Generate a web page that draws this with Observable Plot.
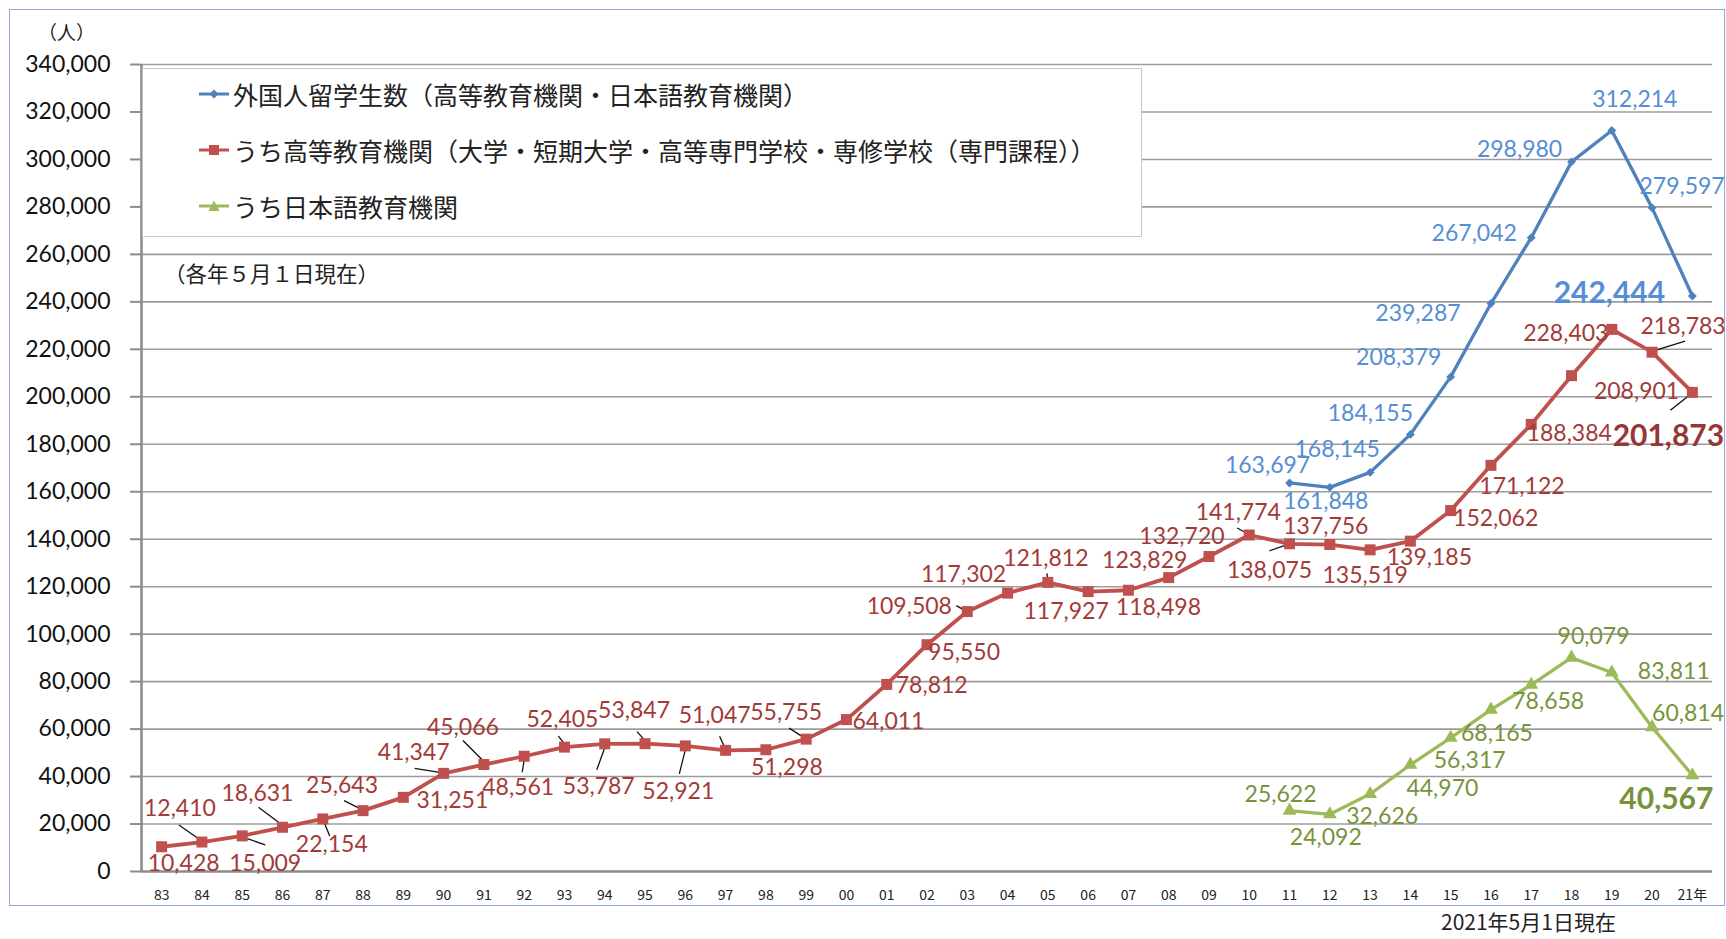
<!DOCTYPE html>
<html><head><meta charset="utf-8">
<script src="https://cdn.jsdelivr.net/npm/d3@7"></script>
<script src="https://cdn.jsdelivr.net/npm/@observablehq/plot@0.6"></script>
<style>
body{margin:0;background:#fff;font-family:"Noto Sans CJK JP","Noto Sans",sans-serif;}
#wrap{position:relative;width:1726px;height:939px;overflow:hidden;}
#frame{position:absolute;left:9px;top:9px;width:1716px;height:897px;border:1.5px solid #8EAADB;box-sizing:border-box;}
#chart{position:absolute;left:0;top:0;}
.t{position:absolute;white-space:nowrap;color:#222;line-height:1;}
#legend{position:absolute;left:142px;top:68px;width:1000px;height:169px;background:#fff;border:1px solid #c8c8c8;box-sizing:border-box;}
.li{position:absolute;left:56px;height:30px;display:flex;align-items:center;font-size:25px;color:#222;}
.li svg{margin-right:4px;}
</style></head>
<body>
<div id="wrap">
  <div id="frame"></div>
  <div id="chart"></div>
  <div class="t" style="left:38px;top:22px;font-size:19px;">（人）</div>
  <div id="legend">
    <div class="li" style="top:10px;"><svg width="30" height="14"><line x1="0" y1="7" x2="30" y2="7" stroke="#4F81BD" stroke-width="3"/><path d="M15 2.5L19.5 7L15 11.5L10.5 7Z" fill="#4F81BD"/></svg>外国人留学生数（高等教育機関・日本語教育機関）</div>
    <div class="li" style="top:66px;"><svg width="30" height="14"><line x1="0" y1="7" x2="30" y2="7" stroke="#C0504D" stroke-width="3"/><rect x="10" y="2" width="10" height="10" fill="#C0504D"/></svg>うち高等教育機関（大学・短期大学・高等専門学校・専修学校（専門課程））</div>
    <div class="li" style="top:122px;"><svg width="30" height="14"><line x1="0" y1="7" x2="30" y2="7" stroke="#9BBB59" stroke-width="3"/><path d="M15 1.5L20.5 12L9.5 12Z" fill="#9BBB59"/></svg>うち日本語教育機関</div>
  </div>
  <div class="t" style="left:164px;top:262px;font-size:21.5px;">（各年５月１日現在）</div>
  <div class="t" style="left:1441px;top:911px;font-size:21px;">2021年5月1日現在</div>
</div>
<script>
// ---- data ----
const years = ["83","84","85","86","87","88","89","90","91","92","93","94","95","96","97","98","99",
  "00","01","02","03","04","05","06","07","08","09","10","11","12","13","14","15","16","17","18","19","20","21年"];
const higherEdu = [10428,12410,15009,18631,22154,25643,31251,41347,45066,48561,52405,53787,53847,52921,51047,51298,55755,
  64011,78812,95550,109508,117302,121812,117927,118498,123829,132720,141774,
  138075,137756,135519,139185,152062,171122,188384,208901,228403,218783,201873];
const totalFrom2011 = [163697,161848,168145,184155,208379,239287,267042,298980,312214,279597,242444];
const languageFrom2011 = [25622,24092,32626,44970,56317,68165,78658,90079,83811,60814,40567];
const start2011 = years.indexOf("11");
const yTicks = d3.range(0, 340001, 20000);

// ---- label placement (pixel offsets from each point) ----
const redOff = [[22,17],[-22,-33],[23,28],[-25,-34],[9,26],[-21,-25],[49,3],[-30,-21],[-21,-37],[-6,31],
  [-2,-27],[-6,43],[-11,-33],[-7,46],[-11,-35],[21,18],[-20,-27],[42,2],[45,1],[37,8],
  [-58,-5],[-44,-18],[-2,-24],[-22,20],[30,17],[-24,-17],[-27,-20],[-11,-22],[-20,27],[-4,-18],
  [-5,26],[19,16],[45,8],[31,21],[38,9],[65,16],[-46,4],[31,-26],[-24,44]];
const blueOff = [[-22,-17],[-4,14],[-33,-23],[-40,-21],[-52,-19],[-73,10],[-57,-4],[-52,-12],[23,-31],[30,-21],[-83,-3]];
const greenOff = [[-9,-16],[-4,23],[12,23],[32,24],[19,23],[6,24],[17,17],[22,-21],[62,-1],[36,-14],[-26,24]];
// leader lines: [index, series, x1,y1,x2,y2] offsets from point (px)
const leaders = [[1,"r",-3,-3,-23,-17],[2,"r",3,2,23,9],[3,"r",0,-2,-24,-20],[4,"r",2,5,7,17],[5,"r",-3,-2,-19,-10],
  [7,"r",-4,-1,-29,-5],[8,"r",-1,-4,-21,-24],[9,"r",0,4,-2,16],[10,"r",0,-3,-6,-11],[11,"r",0,4,-8,26],
  [12,"r",0,-3,-8,-12],[13,"r",0,4,-6,28],[14,"r",-1,-3,-6,-14],[16,"r",-3,-2,-17,-11],[20,"r",-2,-1,-11,-6],
  [22,"r",0,-3,-1,-9],[27,"r",-3,-2,-12,-7],[28,"r",-3,1,-20,7],[37,"r",4,-2,33,-11],[38,"r",-3,3,-22,18]];

const W = 1726, H = 910, ML = 141, MR = 14, MT = 64, MB = 39;
const ppx = (W - ML - MR) / years.length, ppy = (H - MT - MB) / 340000;

const red = higherEdu.map((v, i) => ({i, v, off: redOff[i]}));
const blue = totalFrom2011.map((v, k) => ({i: start2011 + k, v, off: blueOff[k]}));
const green = languageFrom2011.map((v, k) => ({i: start2011 + k, v, off: greenOff[k]}));
const lx = d => d.i + d.off[0] / ppx, ly = d => d.v - d.off[1] / ppy;
const last = years.length - 1;
const byName = {r: red};
const leadRows = leaders.map(([i, s, a, b, c, e]) => { const p = byName[s][i]; return {x1: p.i + a/ppx, y1: p.v - b/ppy, x2: p.i + c/ppx, y2: p.v - e/ppy}; });

const fmt = d3.format(",");
const C = {blue: "#4F81BD", blueT: "#558ED5", red: "#C0504D", redT: "#A33A38", green: "#9BBB59", greenT: "#77933C"};
const lab = (data, fill) => Plot.text(data.filter(d => d.i !== last), {x: lx, y: ly, text: d => fmt(d.v), fill, fontSize: 23, fontFamily: "Lato"});
const labB = (data, fill) => Plot.text(data.filter(d => d.i === last), {x: lx, y: ly, text: d => fmt(d.v), fill, fontSize: 30, fontWeight: "bold", fontFamily: "Lato"});

const chart = Plot.plot({
  width: W, height: H, marginLeft: ML, marginRight: MR, marginTop: MT, marginBottom: MB,
  x: {domain: [-0.5, years.length - 0.5], axis: null},
  y: {domain: [0, 340000], axis: null},
  style: {background: "transparent", overflow: "visible"},
  marks: [
    Plot.ruleY(yTicks.slice(1), {stroke: "#9c9c9c", strokeWidth: 1.6}),
    Plot.ruleY([0], {stroke: "#8c8c8c", strokeWidth: 2.4}),
    Plot.ruleX([-0.5], {stroke: "#8c8c8c", strokeWidth: 2.6}),
    Plot.axisY({ticks: yTicks, tickSize: 11, tickPadding: 20, tickFormat: fmt, stroke: "#8c8c8c", strokeWidth: 2, fill: "#111", fontSize: 23, fontFamily: "Lato", label: null}),
    Plot.axisX({ticks: d3.range(years.length), tickSize: 0, tickPadding: 19, tickFormat: i => years[i], fontSize: 14, fill: "#222", fontFamily: "Noto Sans CJK JP", label: null}),
    Plot.link(leadRows, {x1: "x1", y1: "y1", x2: "x2", y2: "y2", stroke: "#111", strokeWidth: 1.3}),
    Plot.line(red, {x: "i", y: "v", stroke: C.red, strokeWidth: 3.8}),
    Plot.line(blue, {x: "i", y: "v", stroke: C.blue, strokeWidth: 3.3}),
    Plot.line(green, {x: "i", y: "v", stroke: C.green, strokeWidth: 3.3}),
    Plot.dot(red, {x: "i", y: "v", symbol: "square", r: 6.2, fill: C.red}),
    Plot.dot(blue, {x: "i", y: "v", symbol: "diamond2", r: 4, fill: C.blue}),
    Plot.dot(green, {x: "i", y: "v", symbol: "triangle", r: 5.2, fill: C.green}),
    lab(red, C.redT), lab(blue, C.blueT), lab(green, C.greenT),
    labB(red, "#953735"), labB(blue, C.blueT), labB(green, "#76923C")
  ]
});
document.getElementById("chart").appendChild(chart);
</script>
</body></html>
